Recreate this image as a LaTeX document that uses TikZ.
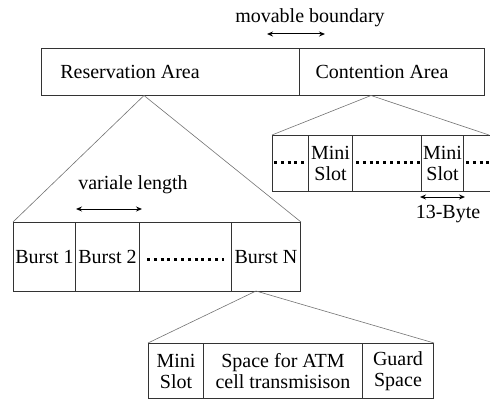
\documentclass[tikz,border=0pt]{standalone}
\usepackage{fontspec}
\setmainfont{Liberation Serif}
\usetikzlibrary{arrows.meta}
\begin{document}
\begin{tikzpicture}[x=1pt,y=-1pt,
 box/.style={draw=black!80, line width=1pt, rectangle, inner sep=0pt, anchor=north west},
 lbl/.style={font=\fontsize{20}{21}\selectfont, inner sep=0pt},
 two/.style={inner sep=0pt, align=center, font=\fontsize{20}{21}\selectfont},
 fan/.style={draw=black!55, line width=0.6pt},
 dotrow/.style={line width=3pt, dash pattern=on 3pt off 3.8pt},
 dim/.style={{Stealth[length=6pt,width=5pt]}-{Stealth[length=6pt,width=5pt]}, line width=1pt}
]
\clip (0,0) rectangle (490,401);
% top row
\node[box, minimum width=258pt, minimum height=47pt] (res) at (41,48) {};
\node[box, minimum width=185pt, minimum height=47pt] (con) at (299,48) {};
\node[lbl] (rest) at (130,72) {Reservation Area};
\node[lbl] (cont) at (382,72) {Contention Area};
\node[lbl] (mov) at (310,18) {movable boundary};
\coordinate (mova) at (267,34);
\coordinate (movb) at (325,34);
\draw[dim] (mova) -- (movb);
% burst row
\node[box, minimum width=62pt, minimum height=69pt] (b1) at (13,222) {};
\node[box, minimum width=64pt, minimum height=69pt] (b2) at (75,222) {};
\node[box, minimum width=92pt, minimum height=69pt] (bd) at (139,222) {};
\node[box, minimum width=69pt, minimum height=69pt] (bn) at (231,222) {};
\node[lbl] at (b1.center) {Burst 1};
\node[lbl] at (b2.center) {Burst 2};
\node[lbl] at (bn.center) {Burst N};
\draw[dotrow] (147,259) -- (224,259);
\node[lbl] (var) at (133,185) {variale length};
\coordinate (vara) at (76,209);
\coordinate (varb) at (142,209);
\draw[dim] (vara) -- (varb);
% contention row
\node[box, minimum width=36pt, minimum height=56pt] (c0) at (272,135) {};
\node[box, minimum width=44pt, minimum height=56pt] (c1) at (308,135) {};
\node[box, minimum width=69pt, minimum height=56pt] (c2) at (352,135) {};
\node[box, minimum width=42pt, minimum height=56pt] (c3) at (421,135) {};
\node[box, minimum width=50pt, minimum height=56pt] (c4) at (463,135) {};
\node[two] at (c1.center) {Mini\\Slot};
\node[two] at (c3.center) {Mini\\Slot};
\draw[dotrow] (274,163) -- (308,163);
\draw[dotrow] (356,163) -- (420,163);
\draw[dotrow] (466,163) -- (492,163);
\coordinate (byta) at (420,197);
\coordinate (bytb) at (465,197);
\draw[dim] (byta) -- (bytb);
\node[lbl] (byt) at (448,214) {13-Byte};
% bottom row
\node[box, minimum width=55pt, minimum height=55pt] (m) at (148,343) {};
\node[box, minimum width=159pt, minimum height=55pt] (s) at (203,343) {};
\node[box, minimum width=71pt, minimum height=55pt] (g) at (362,343) {};
\node[two] at (m.center) {Mini\\Slot};
\node[two] at (s.center) {Space for ATM\\cell transmisison};
\node[two] at (g.center) {Guard\\Space};
% fan lines
\coordinate (resapex) at (144,95.5);
\coordinate (conapex) at (371,95.5);
\coordinate (conend) at (489,135);
\coordinate (bnapex) at (256,291);
\draw[fan] (b1.north west) -- (resapex) -- (bn.north east);
\draw[fan] (c0.north west) -- (conapex) -- (conend);
\draw[fan] (m.north west) -- (bnapex) -- (g.north east);
\end{tikzpicture}
\end{document}
